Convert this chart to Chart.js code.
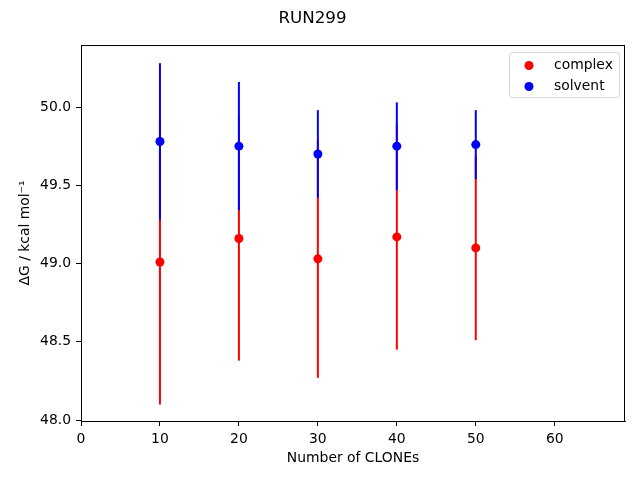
<!DOCTYPE html>
<html lang="en">
<head>
    <meta charset="UTF-8">
    <title>RUN299</title>
    <script src="https://cdn.jsdelivr.net/npm/chart.js"></script>
    <style>
        body { margin: 0; padding: 0; background: #fff; }
        #wrap { width: 640px; height: 480px; }
    </style>
</head>
<body>
<div id="wrap"><canvas id="chart" width="640" height="480"></canvas></div>
<script>
    // Данные
    const clones = [10, 20, 30, 40, 50];
    const complexDG = [49.01, 49.16, 49.03, 49.17, 49.10];
    const complexErr = [0.91, 0.78, 0.76, 0.72, 0.59];
    const solventDG = [49.78, 49.75, 49.70, 49.75, 49.76];
    const solventErr = [0.50, 0.41, 0.28, 0.28, 0.22];
    const xTicks = [0, 10, 20, 30, 40, 50, 60];
    const yTicks = [48.0, 48.5, 49.0, 49.5, 50.0];

    const FONT = 'DejaVu Sans';
    const FS = 13.9;   // 10pt при 100 dpi

    // Рисуем вертикальные погрешности через шкалы
    const errorBars = {
        id: 'errorBars',
        beforeDatasetsDraw(chart) {
            const { ctx, scales: { x, y } } = chart;
            ctx.save();
            ctx.lineWidth = 2;
            chart.data.datasets.forEach(ds => {
                ctx.strokeStyle = ds.backgroundColor;
                ds.data.forEach((p, i) => {
                    const px = x.getPixelForValue(p.x);
                    ctx.beginPath();
                    ctx.moveTo(px, y.getPixelForValue(p.y - ds.errors[i]));
                    ctx.lineTo(px, y.getPixelForValue(p.y + ds.errors[i]));
                    ctx.stroke();
                });
            });
            ctx.restore();
        },
        afterDraw(chart) {
            const { ctx, chartArea: a } = chart;
            ctx.save();
            // рамка
            ctx.strokeStyle = '#000';
            ctx.lineWidth = 1;
            ctx.strokeRect(a.left + 0.5, a.top + 0.5, a.right - a.left - 1, a.bottom - a.top);
            // легенда
            const bx = a.right - 116, by = a.top + 7, bw = 110, bh = 45;
            ctx.fillStyle = 'rgba(255,255,255,0.8)';
            ctx.strokeStyle = '#d6d6d6';
            ctx.beginPath();
            ctx.roundRect(bx + 0.5, by + 0.5, bw, bh, 3);
            ctx.fill();
            ctx.stroke();
            ctx.font = FS + 'px ' + FONT;
            ctx.textBaseline = 'middle';
            chart.data.datasets.forEach((ds, i) => {
                const cy = by + 13.5 + i * 21;
                ctx.fillStyle = ds.backgroundColor;
                ctx.beginPath();
                ctx.arc(bx + 20, cy, 4.5, 0, Math.PI * 2);
                ctx.fill();
                ctx.fillStyle = '#000';
                ctx.fillText(ds.label, bx + 45, cy);
            });
            ctx.restore();
        }
    };

    new Chart(document.getElementById('chart'), {
        type: 'scatter',
        data: {
            datasets: [
                {
                    label: 'complex',
                    data: clones.map((c, i) => ({ x: c, y: complexDG[i] })),
                    errors: complexErr,
                    backgroundColor: '#ff0000',
                    borderColor: '#ff0000',
                    pointRadius: 4.5,
                    borderWidth: 0
                },
                {
                    label: 'solvent',
                    data: clones.map((c, i) => ({ x: c, y: solventDG[i] })),
                    errors: solventErr,
                    backgroundColor: '#0000ff',
                    borderColor: '#0000ff',
                    pointRadius: 4.5,
                    borderWidth: 0
                }
            ]
        },
        options: {
            responsive: false,
            animation: false,
            events: [],
            layout: { padding: { left: 0, right: 15, top: 0, bottom: 0 } },
            scales: {
                x: {
                    type: 'linear',
                    min: 0,
                    max: 68.9,
                    afterFit(s) { s.height = 59; },
                    afterBuildTicks(s) { s.ticks = xTicks.map(v => ({ value: v })); },
                    grid: { drawOnChartArea: false, color: '#000', tickLength: 5, tickWidth: 1 },
                    border: { color: '#000', width: 1 },
                    ticks: { color: '#000', font: { family: FONT, size: FS }, padding: 5, maxRotation: 0 },
                    title: { display: true, text: 'Number of CLONEs', color: '#000', font: { family: FONT, size: FS }, padding: { top: 0, bottom: 13.7 } }
                },
                y: {
                    min: 47.994,
                    max: 50.396,
                    afterFit(s) { s.width = 81; },
                    afterBuildTicks(s) { s.ticks = yTicks.map(v => ({ value: v })); },
                    grid: { drawOnChartArea: false, color: '#000', tickLength: 5, tickWidth: 1 },
                    border: { color: '#000', width: 1 },
                    ticks: {
                        color: '#000', font: { family: FONT, size: FS }, padding: 5,
                        callback: v => v.toFixed(1)
                    },
                    title: { display: true, text: 'ΔG / kcal mol⁻¹', color: '#000', font: { family: FONT, size: FS }, padding: { top: 16.7, bottom: 0 } }
                }
            },
            plugins: {
                legend: { display: false },
                tooltip: { enabled: false },
                title: {
                    display: true,
                    text: 'RUN299',
                    color: '#000',
                    font: { family: FONT, size: 16.7, weight: 'normal' },
                    padding: { top: 8.5, bottom: 16.5 }
                }
            }
        },
        plugins: [errorBars]
    });
</script>
</body>
</html>
